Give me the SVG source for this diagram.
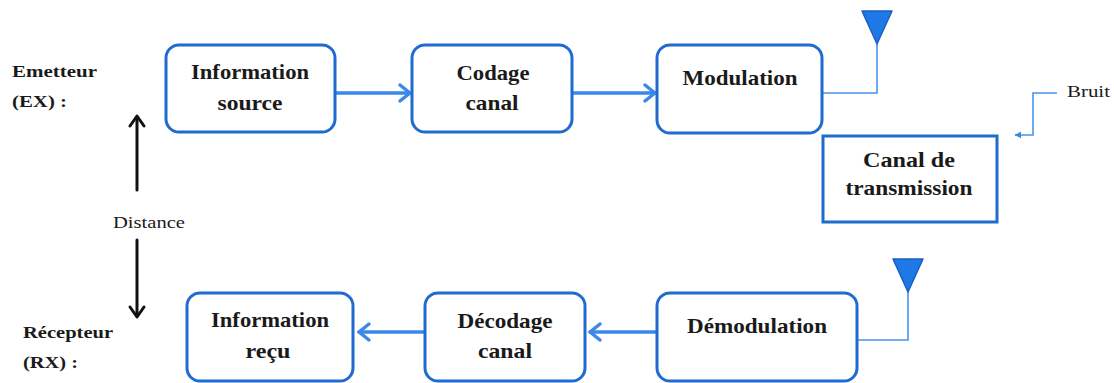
<svg xmlns="http://www.w3.org/2000/svg" width="1114" height="383" viewBox="0 0 1114 383" font-family="Liberation Serif, Times New Roman, DejaVu Serif, serif">
<style>
.box{fill:#fff;stroke:#1f6bd0;stroke-width:3}
text{font-family:'Liberation Serif','Times New Roman','DejaVu Serif',serif;fill:#1a1a1a}
.bt{font-weight:bold;font-size:21px;text-anchor:middle}
.lbl{font-weight:bold;font-size:16px}
.rg{font-size:17px}
.conn{fill:none;stroke:#3a88ea;stroke-width:3.5;stroke-linecap:round;stroke-linejoin:round}
.thin{fill:none;stroke:#4a93f0;stroke-width:1.6}
.blk{fill:none;stroke:#111;stroke-width:3;stroke-linecap:round;stroke-linejoin:round}
.ant{fill:#1e78e6;stroke:#1a5fc0;stroke-width:1.5;stroke-linejoin:round}
</style>
<defs>
<marker id="tri" viewBox="0 0 10 10" refX="9" refY="5" markerWidth="7" markerHeight="7" markerUnits="userSpaceOnUse" orient="auto">
<path d="M0,0 L10,5 L0,10 z" fill="#3a88ea"/>
</marker>
</defs>

<g id="labels">
<text class="lbl" x="12" y="77" textLength="85" lengthAdjust="spacingAndGlyphs">Emetteur</text>
<text class="lbl" x="12" y="107" textLength="55" lengthAdjust="spacingAndGlyphs">(EX) :</text>
<text class="lbl" x="23" y="338" textLength="90" lengthAdjust="spacingAndGlyphs">Récepteur</text>
<text class="lbl" x="23" y="368" textLength="55" lengthAdjust="spacingAndGlyphs">(RX) :</text>
<text class="rg" x="113" y="228" textLength="72" lengthAdjust="spacingAndGlyphs">Distance</text>
<text class="rg" x="1067" y="97" textLength="43" lengthAdjust="spacingAndGlyphs">Bruit</text>
</g>

<g id="connectors">
<line class="conn" x1="336" y1="93" x2="410" y2="93"/>
<polyline class="conn" points="400,85 410,93 400,101"/>
<line class="conn" x1="573" y1="93" x2="655" y2="93"/>
<polyline class="conn" points="645,85 655,93 645,101"/>
<line class="conn" x1="656" y1="332" x2="590" y2="332"/>
<polyline class="conn" points="600,324 590,332 600,340"/>
<line class="conn" x1="424" y1="332" x2="359" y2="332"/>
<polyline class="conn" points="369,324 359,332 369,340"/>
<polyline class="thin" points="823,93 877,93 877,44"/>
<polyline class="thin" points="858,340 908,340 908,292"/>
<polyline class="thin" points="1057,93 1033,93 1033,135 1015,135" marker-end="url(#tri)"/>
<line class="blk" x1="137" y1="190" x2="137" y2="117"/>
<polyline class="blk" points="130,126 137,116 144,126"/>
<line class="blk" x1="137" y1="240" x2="137" y2="316"/>
<polyline class="blk" points="130,307 137,317 144,307"/>
</g>

<g id="antenna-tx"><path class="ant" d="M862,11 L892,11 L877,44 z"/></g>
<g id="antenna-rx"><path class="ant" d="M893,259 L923,259 L908,292 z"/></g>

<g id="info-source">
<rect class="box" x="166" y="45" width="169" height="87" rx="13"/>
<text class="bt" x="250" y="79" textLength="118" lengthAdjust="spacingAndGlyphs">Information</text>
<text class="bt" x="250" y="110" textLength="65" lengthAdjust="spacingAndGlyphs">source</text>
</g>
<g id="codage">
<rect class="box" x="412" y="45" width="160" height="87" rx="13"/>
<text class="bt" x="493" y="80" textLength="73" lengthAdjust="spacingAndGlyphs">Codage</text>
<text class="bt" x="492" y="110" textLength="53" lengthAdjust="spacingAndGlyphs">canal</text>
</g>
<g id="modulation">
<rect class="box" x="657" y="45" width="165" height="88" rx="13"/>
<text class="bt" x="740" y="85" textLength="115" lengthAdjust="spacingAndGlyphs">Modulation</text>
</g>
<g id="canal">
<rect class="box" x="823" y="136" width="174" height="86"/>
<text class="bt" x="909" y="167" textLength="92" lengthAdjust="spacingAndGlyphs">Canal de</text>
<text class="bt" x="909" y="195" textLength="127" lengthAdjust="spacingAndGlyphs">transmission</text>
</g>
<g id="demodulation">
<rect class="box" x="657" y="293" width="200" height="88" rx="13"/>
<text class="bt" x="757" y="333" textLength="140" lengthAdjust="spacingAndGlyphs">Démodulation</text>
</g>
<g id="decodage">
<rect class="box" x="425" y="293" width="160" height="88" rx="13"/>
<text class="bt" x="505" y="328" textLength="95" lengthAdjust="spacingAndGlyphs">Décodage</text>
<text class="bt" x="505" y="358" textLength="54" lengthAdjust="spacingAndGlyphs">canal</text>
</g>
<g id="info-recu">
<rect class="box" x="187" y="293" width="166" height="88" rx="13"/>
<text class="bt" x="270" y="327" textLength="118" lengthAdjust="spacingAndGlyphs">Information</text>
<text class="bt" x="268" y="358" textLength="45" lengthAdjust="spacingAndGlyphs">reçu</text>
</g>
</svg>
